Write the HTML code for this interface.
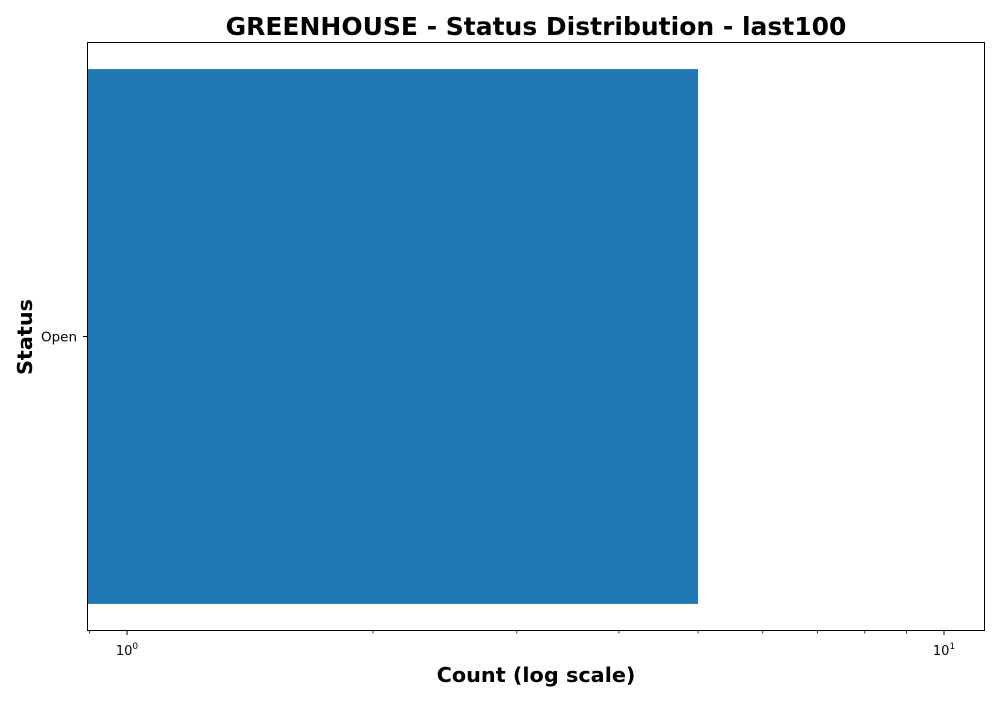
<!DOCTYPE html>
<html><head><meta charset="utf-8"><style>
body{margin:0;background:#fff;}
svg{font-family:"DejaVu Sans","Liberation Sans",sans-serif;}
</style></head><body>
<svg id="chart" width="1000" height="700">
<rect width="1000" height="700" fill="#fff"/>
<text x="536" y="35" text-anchor="middle" font-size="25" font-weight="bold">GREENHOUSE - Status Distribution - last100</text>
<text x="536" y="682" text-anchor="middle" font-size="20.8" font-weight="bold">Count (log scale)</text>
<text transform="translate(32,337) rotate(-90)" text-anchor="middle" font-size="20.8" font-weight="bold">Status</text>
<g id="plot"></g>
<rect x="87.5" y="42.5" width="897" height="588" fill="none" stroke="#000" stroke-width="1"/>
</svg>
<script>
const categories = ["Open"];
const counts = [5];
const majorTicks = [1, 10];
const majorLabels = ["0", "1"];

const X0 = 87, X1 = 985, Y0 = 42, Y1 = 631;
const LMIN = -0.0490, LMAX = 1.0502;
function xs(v){ return X0 + (Math.log10(v) - LMIN) / (LMAX - LMIN) * (X1 - X0); }
const n = categories.length;
function yc(i){ return Y0 + (Y1 - Y0) * (i + 0.5) / n; }
const ns = "http://www.w3.org/2000/svg";
const g = document.getElementById('plot');
const bh = (Y1 - Y0) / n * 0.908;
categories.forEach((c, i) => {
  const r = document.createElementNS(ns, 'rect');
  r.setAttribute('x', X0);
  r.setAttribute('y', yc(i) - bh / 2);
  r.setAttribute('width', xs(counts[i]) - X0);
  r.setAttribute('height', bh);
  r.setAttribute('fill', '#1f77b4');
  
  
  g.appendChild(r);
  const t = document.createElementNS(ns, 'line');
  t.setAttribute('x1', X0 - 4); t.setAttribute('x2', X0);
  t.setAttribute('y1', yc(i)); t.setAttribute('y2', yc(i));
  t.setAttribute('stroke', '#000');
  
  
  g.appendChild(t);
  const l = document.createElementNS(ns, 'text');
  l.setAttribute('x', X0 - 10); l.setAttribute('y', yc(i) + 5);
  l.setAttribute('text-anchor', 'end'); l.setAttribute('font-size', '13.5');
  l.textContent = c;
  
  
  g.appendChild(l);
});
for (let d = -1; d <= 1; d++) {
  for (let m = 2; m <= 9; m++) {
    const v = m * Math.pow(10, d);
    const lv = Math.log10(v);
    if (lv < LMIN || lv > LMAX) continue;
    const t = document.createElementNS(ns, 'line');
    t.setAttribute('x1', xs(v)); t.setAttribute('x2', xs(v));
    t.setAttribute('y1', Y1); t.setAttribute('y2', Y1 + 2.5);
    t.setAttribute('stroke', '#000'); t.setAttribute('stroke-width', '0.8');
    
    
    g.appendChild(t);
  }
}
majorTicks.forEach((v, i) => {
  const t = document.createElementNS(ns, 'line');
  t.setAttribute('x1', xs(v)); t.setAttribute('x2', xs(v));
  t.setAttribute('y1', Y1); t.setAttribute('y2', Y1 + 4);
  t.setAttribute('stroke', '#000');
  
  
  g.appendChild(t);
  const l = document.createElementNS(ns, 'text');
  l.setAttribute('x', xs(v)); l.setAttribute('y', Y1 + 24);
  l.setAttribute('text-anchor', 'middle'); l.setAttribute('font-size', '13');
  l.innerHTML = '10<tspan dy="-6" font-size="9">' + majorLabels[i] + '</tspan>';
  
  
  g.appendChild(l);
});
</script>
</body></html>
